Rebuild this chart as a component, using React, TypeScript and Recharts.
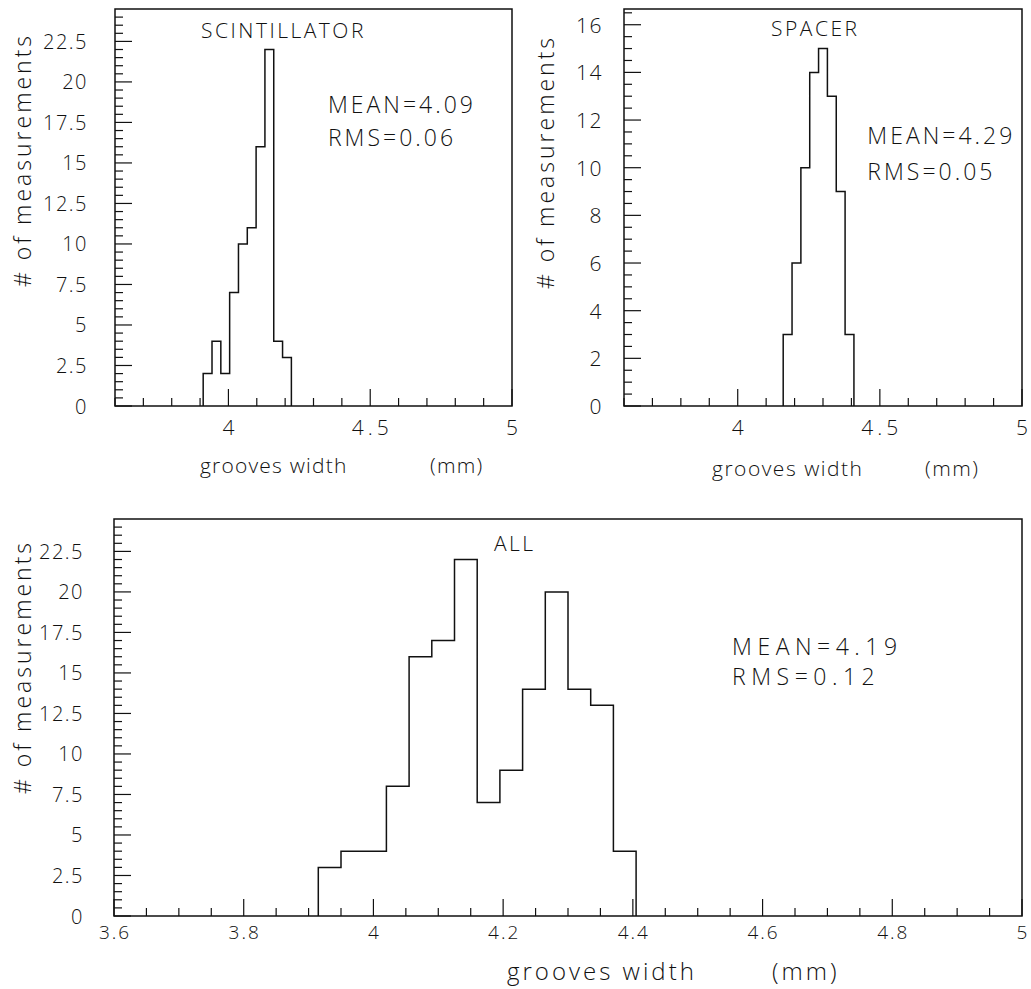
import React from 'react';
import { LineChart, Line, XAxis, YAxis, ReferenceArea, ReferenceDot } from 'recharts';

// bin counts
const scintCounts = [2, 4, 2, 7, 10, 11, 16, 22, 4, 3];
const scintStart = 3.911;
const spacerCounts = [3, 6, 10, 14, 15, 13, 9, 3];
const spacerStart = 4.16;
const topBinWidth = 0.0311;

const allCounts = [3, 4, 4, 8, 16, 17, 22, 7, 9, 14, 20, 14, 13, 4];
const allStart = 3.915;
const allBinWidth = 0.035;

const xDomain: [number, number] = [3.6, 5];
const topXTicks = [3.6, 3.7, 3.8, 3.9, 4, 4.1, 4.2, 4.3, 4.4, 4.5, 4.6, 4.7, 4.8, 4.9, 5];
const allXTicks = [
  3.6, 3.65, 3.7, 3.75, 3.8, 3.85, 3.9, 3.95, 4, 4.05, 4.1, 4.15, 4.2, 4.25, 4.3, 4.35,
  4.4, 4.45, 4.5, 4.55, 4.6, 4.65, 4.7, 4.75, 4.8, 4.85, 4.9, 4.95, 5,
];
const countTicks = [
  0, 0.5, 1, 1.5, 2, 2.5, 3, 3.5, 4, 4.5, 5, 5.5, 6, 6.5, 7, 7.5, 8, 8.5, 9, 9.5, 10,
  10.5, 11, 11.5, 12, 12.5, 13, 13.5, 14, 14.5, 15, 15.5, 16, 16.5, 17, 17.5, 18, 18.5,
  19, 19.5, 20, 20.5, 21, 21.5, 22, 22.5, 23, 23.5, 24,
];
const spacerYTicks = countTicks.filter((t) => t <= 16.5);

const FONT = "'Open Sans', 'DejaVu Sans', sans-serif";
const INK = '#111';

function toSteps(start: number, width: number, counts: number[]) {
  const pts = [{ x: start, y: 0 }];
  counts.forEach((c, i) => pts.push({ x: start + i * width, y: c }));
  pts.push({ x: start + counts.length * width, y: 0 });
  return pts;
}

const isMultiple = (v: number, step: number) => Math.abs(v / step - Math.round(v / step)) < 1e-6;
const fmt = (v: number) => String(Number(v.toFixed(2)));

const makeYTick = (step: number, dx: number, fontSize: number) => (props: any) => {
  const { x, y, payload } = props;
  const major = isMultiple(payload.value, step);
  return (
    <g>
      <line x1={x} y1={y} x2={x + (major ? 17 : 8)} y2={y} stroke={INK} strokeWidth={1.2} />
      {major && (
        <text x={x + dx} y={y} textAnchor="end" dominantBaseline="central" fontSize={fontSize}
          fontFamily={FONT} fontWeight={300} fill={INK} letterSpacing={1.5}>
          {fmt(payload.value)}
        </text>
      )}
    </g>
  );
};

const makeXTick = (step: number, dy: number, fontSize: number, spacing: number) => (props: any) => {
  const { x, y, payload } = props;
  const major = isMultiple(payload.value, step);
  return (
    <g>
      <line x1={x} y1={y} x2={x} y2={y - (major ? 17 : 8)} stroke={INK} strokeWidth={1.2} />
      {major && (
        <text x={x + spacing / 2} y={y + dy} textAnchor="middle" dominantBaseline="central" fontSize={fontSize}
          fontFamily={FONT} fontWeight={300} fill={INK} letterSpacing={spacing}>
          {fmt(payload.value)}
        </text>
      )}
    </g>
  );
};

interface AnnoText {
  text: string;
  x: number;
  y: number;
  anchor: 'center' | 'right';
  size: number;
  spacing: number;
}

interface HistProps {
  width: number;
  height: number;
  marginTop: number;
  marginRight: number;
  yAxisWidth: number;
  xAxisHeight: number;
  counts: number[];
  start: number;
  binWidth: number;
  yMax: number;
  yTicks: number[];
  yStep: number;
  yLabelDx: number;
  yLabelSize: number;
  xTicks: number[];
  xStep: number;
  xLabelDy: number;
  xLabelSize: number;
  xLabelSpacing: number;
  titleDy: number;
  titleSize: number;
  titleSpacing: number;
  titleX1: number;
  titleX2: number;
  yTitleX: number;
  yTitleY: number;
  notes: AnnoText[];
}

function Hist(p: HistProps) {
  const data = toSteps(p.start, p.binWidth, p.counts);
  return (
    <LineChart width={p.width} height={p.height} data={data}
      margin={{ top: p.marginTop, right: p.marginRight, left: 0, bottom: 0 }}>
      <XAxis dataKey="x" type="number" domain={xDomain} allowDataOverflow ticks={p.xTicks}
        interval={0} height={p.xAxisHeight} axisLine={false} tickLine={false} tickSize={0}
        tickMargin={0} tick={makeXTick(p.xStep, p.xLabelDy, p.xLabelSize, p.xLabelSpacing)}
        label={{
          content: ({ viewBox }: any) => (
            <g fontFamily={FONT} fontWeight={300} fill={INK} fontSize={p.titleSize} letterSpacing={p.titleSpacing}>
              <text x={viewBox.x + p.titleX1} y={viewBox.y + p.titleDy} dominantBaseline="central">grooves width</text>
              <text x={viewBox.x + p.titleX2} y={viewBox.y + p.titleDy} dominantBaseline="central">(mm)</text>
            </g>
          ),
        }} />
      <YAxis type="number" domain={[0, p.yMax]} allowDataOverflow ticks={p.yTicks} interval={0}
        width={p.yAxisWidth} axisLine={false} tickLine={false} tickSize={0} tickMargin={0}
        tick={makeYTick(p.yStep, p.yLabelDx, p.yLabelSize)}
        label={{
          content: ({ viewBox }: any) => (
            <text x={p.yTitleX} y={viewBox.y + p.yTitleY} transform={`rotate(-90 ${p.yTitleX} ${viewBox.y + p.yTitleY})`}
              textAnchor="middle" dominantBaseline="central" fontFamily={FONT} fontWeight={300}
              fontSize={23} fill={INK} letterSpacing={3}>
              # of measurements
            </text>
          ),
        }} />
      <ReferenceArea x1={xDomain[0]} x2={xDomain[1]} y1={0} y2={p.yMax} fill="none" stroke={INK}
        strokeWidth={1.5} ifOverflow="visible" />
      <Line type="stepAfter" dataKey="y" stroke={INK} strokeWidth={1.5} dot={false}
        isAnimationActive={false} />
      {p.notes.map((n) => (
        <ReferenceDot key={n.text} x={n.x} y={n.y} r={0} fill="none" stroke="none" ifOverflow="visible"
          label={{ value: n.text, position: n.anchor, offset: 0, fontSize: n.size, fontFamily: FONT,
            fontWeight: 300, fill: INK, letterSpacing: n.spacing }} />
      ))}
    </LineChart>
  );
}

export default function App() {
  return (
    <div style={{ position: 'absolute', left: 0, top: 0, width: 1031, height: 989, background: '#fff' }}>
      <div style={{ position: 'absolute', left: 0, top: 0 }}>
        <Hist width={528} height={490} marginTop={9} marginRight={16} yAxisWidth={115} xAxisHeight={84}
          counts={scintCounts} start={scintStart} binWidth={topBinWidth} yMax={24.5}
          yTicks={countTicks} yStep={2.5} yLabelDx={-27} yLabelSize={20}
          xTicks={topXTicks} xStep={0.5} xLabelDy={21} xLabelSize={21} xLabelSpacing={4}
          titleDy={59} titleSize={21} titleSpacing={1.2} titleX1={85} titleX2={315} yTitleX={22} yTitleY={151}
          notes={[
            { text: 'SCINTILLATOR', x: 4.194, y: 23.15, anchor: 'center', size: 21, spacing: 2.5 },
            { text: 'MEAN=4.09', x: 4.351, y: 18.58, anchor: 'right', size: 23, spacing: 3 },
            { text: 'RMS=0.06', x: 4.351, y: 16.54, anchor: 'right', size: 23, spacing: 3 },
          ]} />
      </div>
      <div style={{ position: 'absolute', left: 520, top: 0 }}>
        <Hist width={511} height={490} marginTop={9} marginRight={9} yAxisWidth={104} xAxisHeight={84}
          counts={spacerCounts} start={spacerStart} binWidth={topBinWidth} yMax={16.66}
          yTicks={spacerYTicks} yStep={2} yLabelDx={-21} yLabelSize={21}
          xTicks={topXTicks} xStep={0.5} xLabelDy={21} xLabelSize={21} xLabelSpacing={4}
          titleDy={62} titleSize={21} titleSpacing={1.5} titleX1={88} titleX2={301} yTitleX={25} yTitleY={153}
          notes={[
            { text: 'SPACER', x: 4.273, y: 15.86, anchor: 'center', size: 21, spacing: 2.5 },
            { text: 'MEAN=4.29', x: 4.456, y: 11.33, anchor: 'right', size: 23, spacing: 3 },
            { text: 'RMS=0.05', x: 4.456, y: 9.82, anchor: 'right', size: 23, spacing: 3 },
          ]} />
      </div>
      <div style={{ position: 'absolute', left: 0, top: 500 }}>
        <Hist width={1031} height={489} marginTop={19} marginRight={9} yAxisWidth={114} xAxisHeight={73}
          counts={allCounts} start={allStart} binWidth={allBinWidth} yMax={24.5}
          yTicks={countTicks} yStep={2.5} yLabelDx={-30} yLabelSize={20}
          xTicks={allXTicks} xStep={0.2} xLabelDy={16} xLabelSize={19} xLabelSpacing={2}
          titleDy={54} titleSize={24} titleSpacing={3} titleX1={393} titleX2={658} yTitleX={22} yTitleY={148}
          notes={[
            { text: 'ALL', x: 4.218, y: 23.0, anchor: 'center', size: 21, spacing: 2.5 },
            { text: 'MEAN=4.19', x: 4.553, y: 16.6, anchor: 'right', size: 23, spacing: 5.5 },
            { text: 'RMS=0.12', x: 4.553, y: 14.75, anchor: 'right', size: 23, spacing: 5.5 },
          ]} />
      </div>
    </div>
  );
}
